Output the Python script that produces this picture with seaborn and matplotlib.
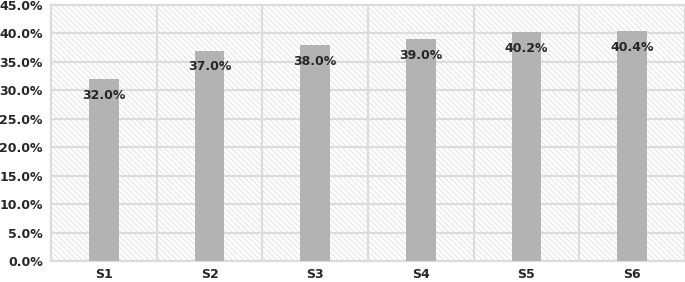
import pandas as pd
import numpy as np
import seaborn as sns
import matplotlib
matplotlib.use('Agg')
import matplotlib.pyplot as plt
from matplotlib.patches import Rectangle
from matplotlib.ticker import FixedLocator, PercentFormatter

# Datos
series = ['S1', 'S2', 'S3', 'S4', 'S5', 'S6']
valores = [32.0, 37.0, 38.0, 39.0, 40.2, 40.4]

df = pd.DataFrame({'serie': series, 'valor': valores})

sns.set_style('white')
plt.rcParams['font.family'] = ['DejaVu Sans']
plt.rcParams['hatch.color'] = '#dadada'
plt.rcParams['hatch.linewidth'] = 0.5

fig = plt.figure(figsize=(6.85, 2.82), dpi=100)
ax = fig.add_axes([51 / 685, 21 / 282, 634 / 685, 256 / 282])

# Fondo con rayado diagonal
fondo = Rectangle((0, 0), 1, 1, transform=ax.transAxes, facecolor='white',
                  edgecolor='#dadada', hatch='\\\\\\\\\\\\', linewidth=0, zorder=0)
ax.add_patch(fondo)

sns.barplot(data=df, x='serie', y='valor', color='#b3b3b3', saturation=1,
            width=0.28, linewidth=0, edgecolor='none', ax=ax, zorder=3)

ax.set_ylim(0, 45)
ax.set_xlim(-0.5, len(series) - 0.5)
ax.yaxis.set_major_locator(FixedLocator(np.arange(0, 46, 5)))
ax.yaxis.set_major_formatter(PercentFormatter(decimals=1))
ax.xaxis.set_minor_locator(FixedLocator(np.arange(0.5, len(series) - 0.5, 1)))

# Cuadricula
ax.grid(which='major', axis='y', color='#dcdcdc', linewidth=1.6, zorder=1)
ax.grid(which='minor', axis='x', color='#dcdcdc', linewidth=1.6, zorder=1)
ax.set_axisbelow(True)

for s in ax.spines.values():
    s.set_color('#dcdcdc')
    s.set_linewidth(1.6)

ax.tick_params(which='both', length=0)
ax.tick_params(axis='y', pad=6)
ax.tick_params(axis='x', pad=5)
for lbl in ax.get_yticklabels() + ax.get_xticklabels():
    lbl.set_fontweight('bold')
    lbl.set_fontsize(9)
    lbl.set_color('#262626')

ax.set_xlabel('')
ax.set_ylabel('')

# Etiquetas de valores
for i, v in enumerate(valores):
    ax.annotate(f'{v:.1f}%', (i, v), xytext=(0, -7), textcoords='offset points',
                ha='center', va='top', fontsize=9, fontweight='bold',
                color='#262626', zorder=5)

fig.savefig('out.png', dpi=100)
